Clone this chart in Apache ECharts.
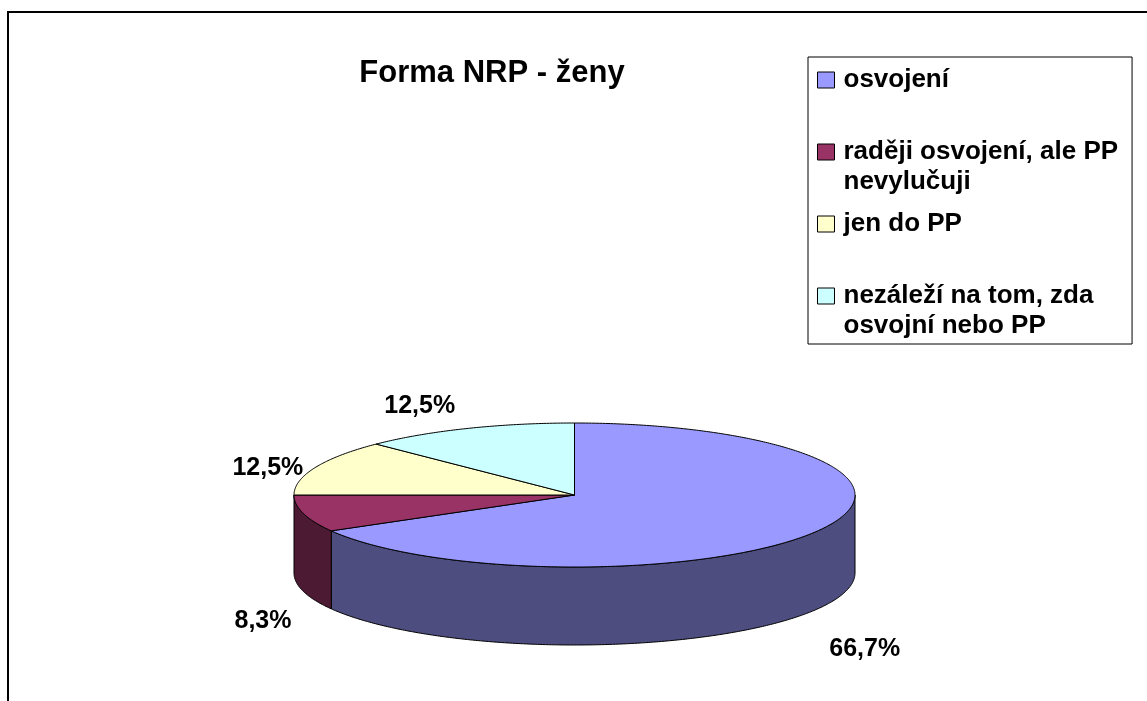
<!DOCTYPE html>
<html>
<head>
<meta charset="utf-8">
<title>Forma NRP - ženy</title>
<script src="https://cdn.jsdelivr.net/npm/echarts@6/dist/echarts.min.js"></script>
<style>html,body{margin:0;padding:0;background:#fff;}</style>
</head>
<body>
<div id="main" style="width:1147px;height:701px;"></div>
<script type="text/javascript">
var categories = ['osvojení', 'raději osvojení, ale PP nevylučuji', 'jen do PP', 'nezáleží na tom, zda osvojní nebo PP'];
var values = [66.7, 8.3, 12.5, 12.5];
var colors = ['#9999FF', '#993366', '#FFFFCC', '#CCFFFF'];

var total = values.reduce(function (a, b) { return a + b; }, 0);
// where each slice starts, clockwise from 12 o'clock
var starts = [];
values.reduce(function (acc, v, i) { starts[i] = acc; return acc + v; }, 0);

// 3D pie geometry (ellipse + wall height)
var cx = 574.5, cy = 495, rx = 280.5, ry = 72, depth = 78;
var font = 'Arial, "Liberation Sans", sans-serif';
var legendFontSize = 26, legendTextWidth = 285;

function pt(a, dy) {
    return [cx + rx * Math.sin(a), cy - ry * Math.cos(a) + (dy || 0)];
}
function arc(a0, a1, dy) {
    var pts = [];
    var n = Math.max(2, Math.ceil(Math.abs(a1 - a0) / 0.01));
    for (var k = 0; k <= n; k++) {
        pts.push(pt(a0 + (a1 - a0) * k / n, dy));
    }
    return pts;
}
function darker(color) {
    var c = echarts.color.parse(color);
    return 'rgb(' + Math.round(c[0] / 2) + ',' + Math.round(c[1] / 2) + ',' + Math.round(c[2] / 2) + ')';
}
function pctText(v) {
    return (v / total * 100).toFixed(1).replace('.', ',') + '%';
}

function renderSlice(params, api) {
    var a0 = api.value(0) / total * 2 * Math.PI;
    var a1 = (api.value(0) + api.value(1)) / total * 2 * Math.PI;
    var color = api.visual('color');
    var children = [];
    // front wall, only the part between 3 and 9 o'clock is visible
    var s0 = Math.max(a0, Math.PI / 2), s1 = Math.min(a1, 3 * Math.PI / 2);
    if (s1 > s0) {
        children.push({
            type: 'polygon',
            shape: { points: arc(s0, s1, 0).concat(arc(s1, s0, depth)) },
            style: { fill: darker(color), stroke: '#000', lineWidth: 1 }
        });
    }
    children.push({
        type: 'polygon',
        shape: { points: [[cx, cy]].concat(arc(a0, a1, 0)) },
        style: { fill: color, stroke: '#000', lineWidth: 1 }
    });
    // percentage label outside the slice
    var m = (a0 + a1) / 2, s = Math.sin(m), c = Math.cos(m);
    var p = pt(m, c < 0 ? depth : 0);
    children.push({
        type: 'text',
        style: {
            text: pctText(api.value(1)),
            x: p[0] + (s >= 0 ? 12 : -12),
            y: p[1] + 18 - 44 * c,
            align: s >= 0 ? 'left' : 'right',
            verticalAlign: 'middle',
            fontSize: 25,
            fontWeight: 'bold',
            fontFamily: font,
            fill: '#000'
        }
    });
    return { type: 'group', children: children };
}

// wrap legend names by words
var measure = document.createElement('canvas').getContext('2d');
measure.font = 'bold ' + legendFontSize + 'px ' + font;
function wrapName(name) {
    var lines = [], cur = '';
    name.split(' ').forEach(function (w) {
        var t = cur ? cur + ' ' + w : w;
        if (cur && measure.measureText(t).width > legendTextWidth) {
            lines.push(cur);
            cur = w;
        } else {
            cur = t;
        }
    });
    lines.push(cur);
    return lines;
}
// legend text is centred on the icon, so wrapped names get empty lines on top
// to keep their first line next to the icon
function legendLabel(name) {
    var lines = wrapName(name);
    var pad = [];
    for (var k = 1; k < lines.length; k++) pad.push('');
    return pad.concat(lines).join('\n');
}

var myChart = echarts.init(document.getElementById('main'));

var option = {
    backgroundColor: '#fff',
    animation: false,
    title: {
        text: 'Forma NRP - ženy',
        left: 492,
        top: 58,
        padding: 0,
        textAlign: 'center',
        textStyle: { fontSize: 31, fontWeight: 'bold', fontFamily: font, color: '#000' }
    },
    legend: {
        orient: 'vertical',
        left: 808,
        top: 57,
        padding: [8, 14, 3, 9],
        itemWidth: 17,
        itemHeight: 16,
        itemGap: 12,
        icon: 'rect',
        borderColor: '#000',
        borderWidth: 1,
        selectedMode: false,
        itemStyle: { borderColor: '#000', borderWidth: 1 },
        formatter: legendLabel,
        textStyle: {
            fontSize: legendFontSize,
            fontWeight: 'bold',
            fontFamily: font,
            color: '#000',
            lineHeight: 30,
            padding: [0, 0, 0, 4]
        },
        data: categories
    },
    graphic: [{
        type: 'rect',
        silent: true,
        z: -10,
        shape: { x: 8, y: 12, width: 1300, height: 900 },
        style: { fill: 'none', stroke: '#000', lineWidth: 2 }
    }],
    series: categories.map(function (name, i) {
        return {
            type: 'custom',
            name: name,
            coordinateSystem: 'none',
            silent: true,
            itemStyle: { color: colors[i] },
            renderItem: renderSlice,
            data: [[starts[i], values[i]]]
        };
    })
};

myChart.setOption(option);
</script>
</body>
</html>
